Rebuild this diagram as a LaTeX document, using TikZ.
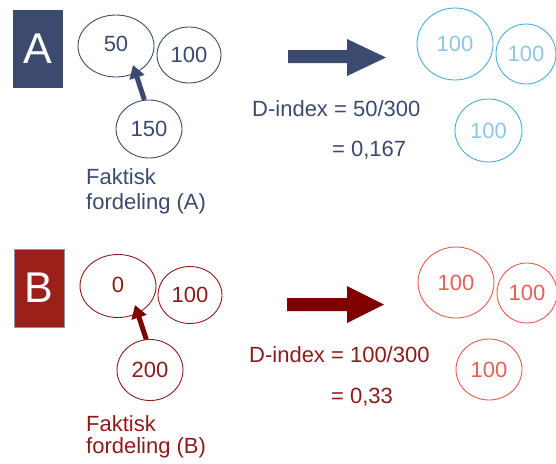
\documentclass[tikz,border=0pt]{standalone}
\usepackage{fontspec}
\setmainfont{Liberation Sans}
\usetikzlibrary{shapes.geometric,arrows.meta}
\definecolor{navyc}{HTML}{3B4A6E}
\definecolor{lblue}{HTML}{4BACD6}
\definecolor{lbluetext}{HTML}{8CC8E6}
\definecolor{dredbox}{HTML}{9B2019}
\definecolor{dredtext}{HTML}{8E1B1B}
\definecolor{dredarrow}{HTML}{7F0000}
\definecolor{lred}{HTML}{E8594F}
\definecolor{lredtext}{HTML}{E4615A}
\begin{document}
\begin{tikzpicture}[x=1pt,y=-1pt,
  font=\fontsize{22}{26}\selectfont,
  circ/.style={ellipse, draw, line width=0.9pt, inner sep=0pt},
  letterbox/.style={rectangle, inner sep=0pt, text=white, minimum width=50pt, minimum height=78pt, font=\fontsize{43}{50}\selectfont},
  txt/.style={anchor=base west, inner sep=0pt},
  smallarrow/.style={line width=5pt, -{Triangle[length=13pt,width=15pt]}}
]
\useasboundingbox (0,0) rectangle (556,463);

% ---------- Panel A ----------
\node[letterbox, fill=navyc] (boxA) at (38,49) {A};
\node[circ, draw=navyc, text=navyc, minimum width=76pt, minimum height=62pt] (a50) at (116,46) {\raisebox{4pt}{50}};
\node[circ, draw=navyc, text=navyc, minimum width=64pt, minimum height=56pt] (a100) at (189,55) {100};
\node[circ, draw=navyc, text=navyc, minimum width=66pt, minimum height=58pt] (a150) at (149,129) {150};
\coordinate (atip) at (133,65);
\draw[smallarrow, navyc] (a150.99) -- (atip);
\node[txt, text=navyc] (afak) at (86,184) {Faktisk};
\node[txt, text=navyc] (afor) at (86,209) {fordeling (A)};

\fill[navyc] (288,50) -- (347,50) -- (347,39) -- (386,57.5) -- (347,76) -- (347,63) -- (288,63) -- cycle;
\node[txt, text=navyc] (adi) at (252,116) {D-index = 50/300};
\node[txt, text=navyc] (aeq) at (332,156) {= 0,167};

\node[circ, draw=lblue, text=lbluetext, minimum width=76pt, minimum height=72pt] (ae1) at (455,44) {100};
\node[circ, draw=lblue, text=lbluetext, minimum width=60pt, minimum height=60pt] (ae2) at (526,54) {100};
\node[circ, draw=lblue, text=lbluetext, minimum width=67pt, minimum height=63pt] (ae3) at (488.5,130.5) {100};

% ---------- Panel B ----------
\node[letterbox, fill=dredbox, draw=navyc!60, line width=0.5pt] (boxB) at (39,288) {B};
\node[circ, draw=dredtext, text=dredtext, minimum width=76pt, minimum height=63pt] (b0) at (118,286) {\raisebox{2pt}{0}};
\node[circ, draw=dredtext, text=dredtext, minimum width=64pt, minimum height=57pt] (b100) at (190,295) {100};
\node[circ, draw=dredtext, text=dredtext, minimum width=66pt, minimum height=61pt] (b200) at (150,370) {200};
\coordinate (btip) at (135,305);
\draw[smallarrow, dredarrow] (b200.97) -- (btip);
\node[txt, text=dredtext] (bfak) at (86,431) {Faktisk};
\node[txt, text=dredtext] (bfor) at (86,453) {fordeling (B)};

\fill[dredarrow] (287,298) -- (347,298) -- (347,286) -- (384,304.5) -- (347,323) -- (347,311) -- (287,311) -- cycle;
\node[txt, text=dredtext] (bdi) at (249,362) {D-index = 100/300};
\node[txt, text=dredtext] (beq) at (331,403) {= 0,33};

\node[circ, draw=lred, text=lredtext, minimum width=76pt, minimum height=71pt] (be1) at (456,282.5) {100};
\node[circ, draw=lred, text=lredtext, minimum width=60pt, minimum height=60pt] (be2) at (527,293) {100};
\node[circ, draw=lred, text=lredtext, minimum width=66pt, minimum height=61pt] (be3) at (489,369.5) {100};
\end{tikzpicture}
\end{document}
